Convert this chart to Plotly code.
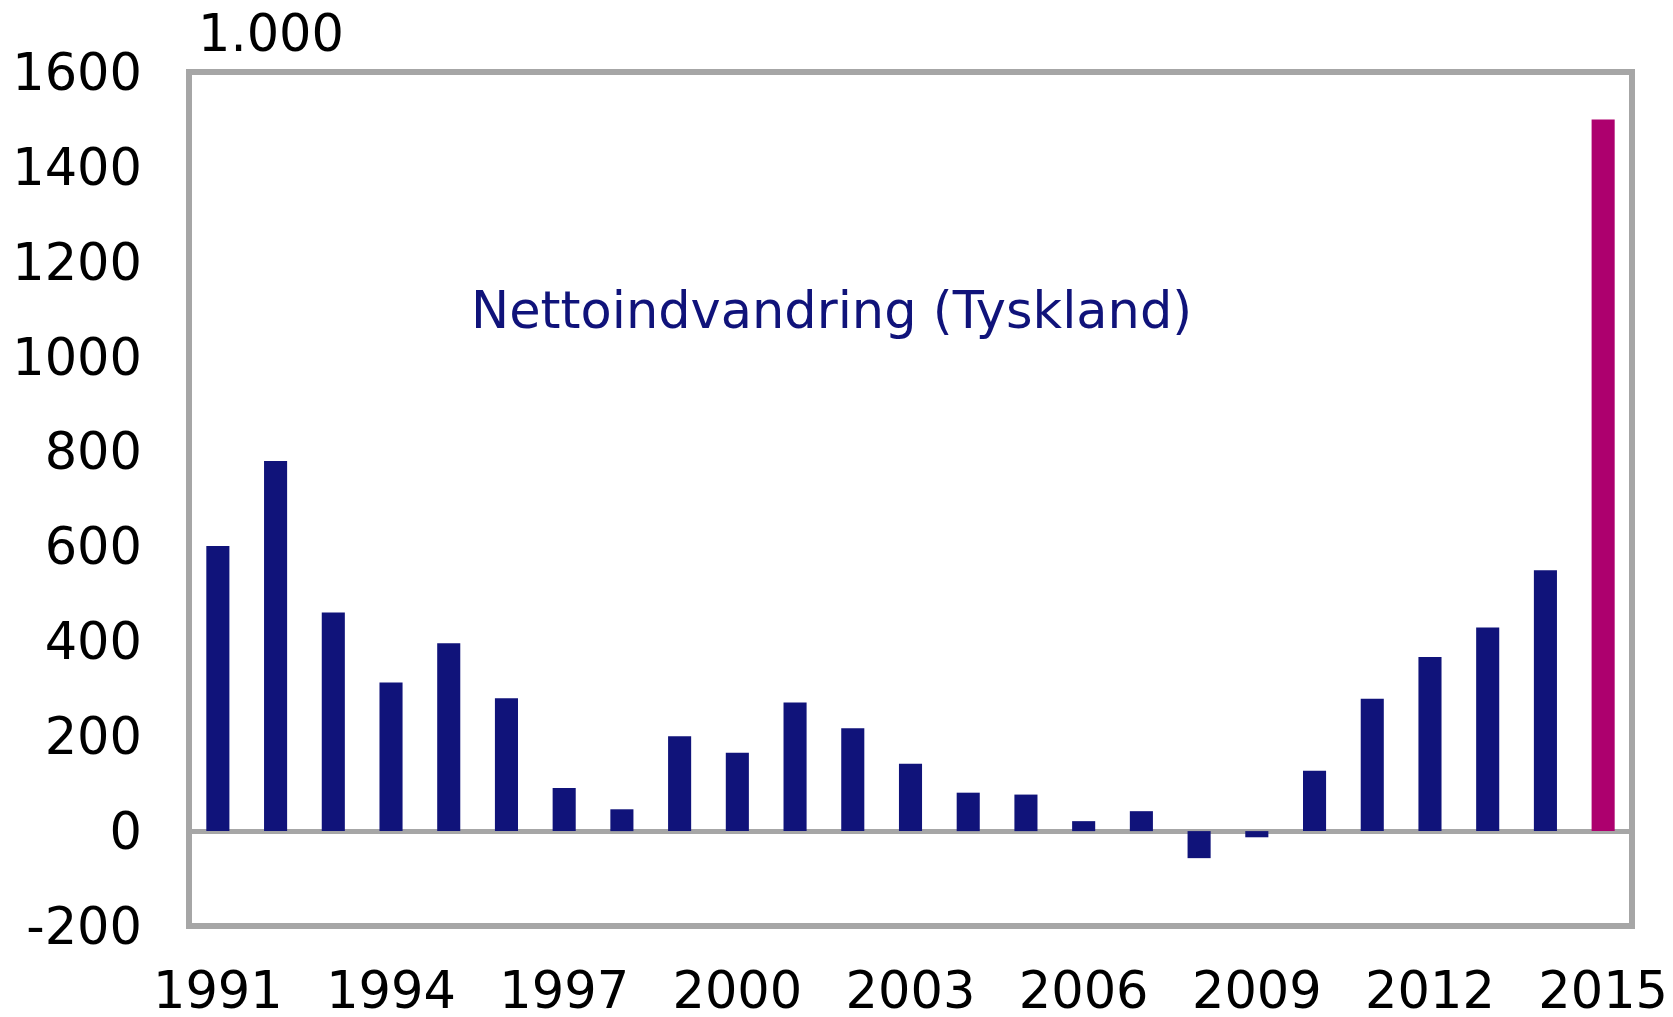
import plotly.graph_objects as go

years = list(range(1991, 2016))
values = [601, 780, 461, 313, 396, 280, 91, 46, 200, 165, 271, 217, 142, 81, 77,
          21, 42, -57, -13, 127, 279, 367, 429, 550, 1500]
highlight_year = 2015
x_tick_years = [1991, 1994, 1997, 2000, 2003, 2006, 2009, 2012, 2015]
y_tick_vals = [-200, 0, 200, 400, 600, 800, 1000, 1200, 1400, 1600]
y_tick_text = ["-200", "0", "200", "400", "600", "800", "1000", "1200", "1400", "1600"]
unit_label = "1.000"
series_label = "Nettoindvandring (Tyskland)"

NAVY = "#10137A"
MAGENTA = "#AD006E"
GREY = "#A6A6A6"
FONT = "DejaVu Sans"

colors = [MAGENTA if y == highlight_year else NAVY for y in years]

fig = go.Figure()
fig.add_trace(go.Bar(x=years, y=values, width=0.4, marker=dict(color=colors, line=dict(width=0)),
                     showlegend=False))

fig.update_layout(
    width=1673, height=1017,
    margin=dict(l=189, r=41, t=72, b=91, autoexpand=False),
    paper_bgcolor="white", plot_bgcolor="white",
    font=dict(family=FONT, size=51, color="black"),
    showlegend=False,
)
fig.update_xaxes(range=[1990.5, 2015.5], tickvals=x_tick_years,
                 ticktext=[str(y) for y in x_tick_years],
                 showgrid=False, zeroline=False, showline=False, ticks="",
                 ticklabelstandoff=30, ticklabeloverflow="allow",
                 tickfont=dict(size=51, family=FONT, color="black"))
fig.update_yaxes(range=[-200, 1600], tickvals=y_tick_vals, ticktext=y_tick_text,
                 showgrid=False, zeroline=True, zerolinecolor=GREY, zerolinewidth=5,
                 showline=False, ticks="", ticklabelstandoff=46,
                 tickfont=dict(size=51, family=FONT, color="black"))

fig.add_shape(type="rect", xref="x domain", yref="y domain", x0=0, x1=1, y0=0, y1=1,
              line=dict(color=GREY, width=6), fillcolor="rgba(0,0,0,0)", layer="above")

fig.add_annotation(text=unit_label, xref="paper", yref="paper", x=0, y=1,
                   xanchor="left", yanchor="bottom", xshift=7, yshift=7, showarrow=False,
                   font=dict(size=51, family=FONT, color="black"))
fig.add_annotation(text=series_label, xref="paper", yref="paper", x=0.4454, y=0.721,
                   xanchor="center", yanchor="middle", showarrow=False,
                   font=dict(size=51, family=FONT, color=NAVY))

# remove the default 8px body margin so the figure fills the window exactly
fig.write_html("out.html", config={"displayModeBar": False},
               post_script="document.body.style.margin='0';")
